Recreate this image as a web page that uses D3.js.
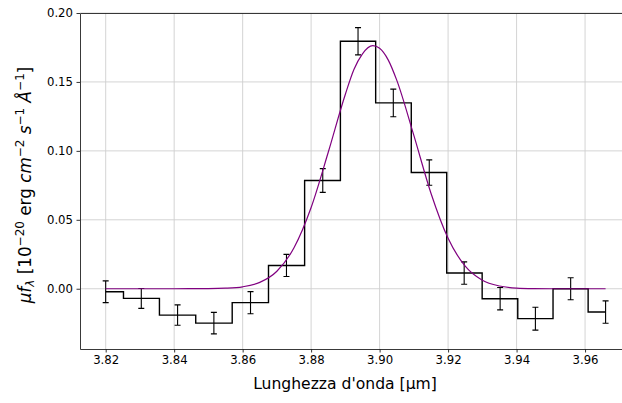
<!DOCTYPE html>
<html>
<head>
<meta charset="utf-8">
<script src="https://cdn.jsdelivr.net/npm/d3@7"></script>
<style>
  body { margin: 0; background: #fff; }
  svg { font-family: "DejaVu Sans", sans-serif; }
</style>
</head>
<body>
<div id="chart"></div>
<script>
// wavelength of each bin [um]
var wave = [3.8200, 3.8304, 3.8410, 3.8516, 3.8623, 3.8728, 3.8834, 3.8937,
            3.9040, 3.9145, 3.9247, 3.9352, 3.9455, 3.9558, 3.9660]
// flux per bin
var flux = [-0.0022, -0.0070, -0.0191, -0.0249, -0.0101, 0.0169, 0.0785, 0.1795,
            0.1348, 0.0843, 0.0114, -0.0072, -0.0217, 0.0000, -0.0169]
// 1 sigma errors
var err = [0.0079, 0.0072, 0.0074, 0.0078, 0.0080, 0.0080, 0.0086, 0.0099,
           0.0100, 0.0092, 0.0081, 0.0081, 0.0083, 0.0080, 0.0081]
// fitted line profile
var fitWave = [3.820, 3.840, 3.850, 3.855, 3.860, 3.865, 3.870, 3.875, 3.880, 3.885,
               3.890, 3.8925, 3.895, 3.898, 3.900, 3.9025, 3.905, 3.910, 3.915, 3.920,
               3.925, 3.930, 3.935, 3.940, 3.945, 3.950, 3.966]
var fitFlux = [0.0000, 0.0000, 0.0001, 0.0004, 0.0014, 0.0046, 0.0127, 0.0297, 0.0589, 0.0990,
               0.1411, 0.1590, 0.1704, 0.1763, 0.1744, 0.1660, 0.1513, 0.1112, 0.0693, 0.0366,
               0.0164, 0.0062, 0.0020, 0.0005, 0.0001, 0.0000, 0.0000]
var xTicks = [3.82, 3.84, 3.86, 3.88, 3.90, 3.92, 3.94, 3.96]
var yTicks = [0.00, 0.05, 0.10, 0.15, 0.20]

var W = 622, H = 403
var margin = { top: 13, right: 1, bottom: 54, left: 80 }

var svg = d3.select('#chart').append('svg')
  .attr('width', W)
  .attr('height', H)

var x = d3.scaleLinear().domain([3.8125, 3.9705]).range([margin.left, W - margin.right])
var y = d3.scaleLinear().domain([-0.0437, 0.20]).range([H - margin.bottom, margin.top])

// griglia
var grid = svg.append('g').attr('stroke', '#cfcfcf').attr('stroke-width', 0.9)
grid.selectAll('.vg').data(xTicks).enter().append('line')
  .attr('x1', function (d) { return x(d) }).attr('x2', function (d) { return x(d) })
  .attr('y1', y.range()[0]).attr('y2', y.range()[1])
grid.selectAll('.hg').data(yTicks).enter().append('line')
  .attr('y1', function (d) { return y(d) }).attr('y2', function (d) { return y(d) })
  .attr('x1', x.range()[0]).attr('x2', W)

// assi
var xAxis = d3.axisBottom(x).tickValues(xTicks).tickFormat(d3.format('.2f'))
  .tickSizeInner(3.5).tickSizeOuter(0).tickPadding(3.5)
var yAxis = d3.axisLeft(y).tickValues(yTicks).tickFormat(d3.format('.2f'))
  .tickSizeInner(3.5).tickSizeOuter(0).tickPadding(3.5)

function styleAxis (g) {
  g.select('.domain').remove()
  g.selectAll('.tick line').attr('stroke', '#000').attr('stroke-width', 0.8)
  g.selectAll('.tick text').attr('fill', '#000').attr('font-size', 11.7)
    .attr('font-family', '"DejaVu Sans", sans-serif')
}

svg.append('g')
  .attr('transform', 'translate(0,' + y.range()[0] + ')')
  .call(xAxis).call(styleAxis)
svg.append('g')
  .attr('transform', 'translate(' + margin.left + ',0)')
  .call(yAxis).call(styleAxis)

// spine
var sp = svg.append('g').attr('stroke', '#222').attr('stroke-width', 0.9).attr('fill', 'none')
sp.append('path').attr('d', 'M' + W + ',' + (y.range()[1] + 0.5) + 'H' + (margin.left + 0.5) +
  'V' + (y.range()[0] + 0.5) + 'H' + W)

// istogramma a gradini
var pts = wave.map(function (w, i) { return [w, flux[i], err[i]] })
svg.append('path')
  .datum(pts)
  .attr('fill', 'none')
  .attr('stroke', '#000')
  .attr('stroke-width', 1.4)
  .attr('d', d3.line()
    .x(function (d) { return x(d[0]) })
    .y(function (d) { return y(d[1]) })
    .curve(d3.curveStep))

// barre d'errore
var eb = svg.append('g').attr('stroke', '#000').attr('stroke-width', 1.1)
eb.selectAll('.eb').data(pts).enter().append('path')
  .attr('fill', 'none')
  .attr('d', function (d) {
    var cx = x(d[0]), y0 = y(d[1] - d[2]), y1 = y(d[1] + d[2])
    return 'M' + cx + ',' + y0 + 'V' + y1 +
      'M' + (cx - 3) + ',' + y0 + 'H' + (cx + 3) +
      'M' + (cx - 3) + ',' + y1 + 'H' + (cx + 3)
  })

// fit gaussiano
svg.append('path')
  .datum(fitWave.map(function (w, i) { return [w, fitFlux[i]] }))
  .attr('fill', 'none')
  .attr('stroke', '#800080')
  .attr('stroke-width', 1.2)
  .attr('d', d3.line()
    .x(function (d) { return x(d[0]) })
    .y(function (d) { return y(d[1]) })
    .curve(d3.curveMonotoneX))

// etichette
svg.append('text')
  .attr('x', 345).attr('y', 389)
  .attr('text-anchor', 'middle')
  .attr('font-size', 15.6)
  .text("Lunghezza d'onda [\u03bcm]")

var yl = svg.append('text')
  .attr('transform', 'translate(30.5,185) rotate(-90)')
  .attr('text-anchor', 'middle')
  .attr('font-size', 16.8)
yl.append('tspan').attr('font-style', 'italic').text('\u03bcf')
yl.append('tspan').attr('font-style', 'italic').attr('font-size', 12).attr('dy', 3.5).text('\u03bb')
yl.append('tspan').attr('dy', -3.5).text(' [10')
yl.append('tspan').attr('font-size', 12).attr('dy', -6.5).text('\u221220')
yl.append('tspan').attr('dy', 6.5).text(' erg ')
yl.append('tspan').attr('font-style', 'italic').text('cm')
yl.append('tspan').attr('font-size', 12).attr('dy', -6.5).text('\u22122')
yl.append('tspan').attr('dy', 6.5).attr('font-style', 'italic').text(' s')
yl.append('tspan').attr('font-size', 12).attr('dy', -6.5).text('\u22121')
yl.append('tspan').attr('dy', 6.5).attr('font-style', 'italic').text(' \u00c5')
yl.append('tspan').attr('font-size', 12).attr('dy', -6.5).text('\u22121')
yl.append('tspan').attr('dy', 6.5).text(']')
</script>
</body>
</html>
